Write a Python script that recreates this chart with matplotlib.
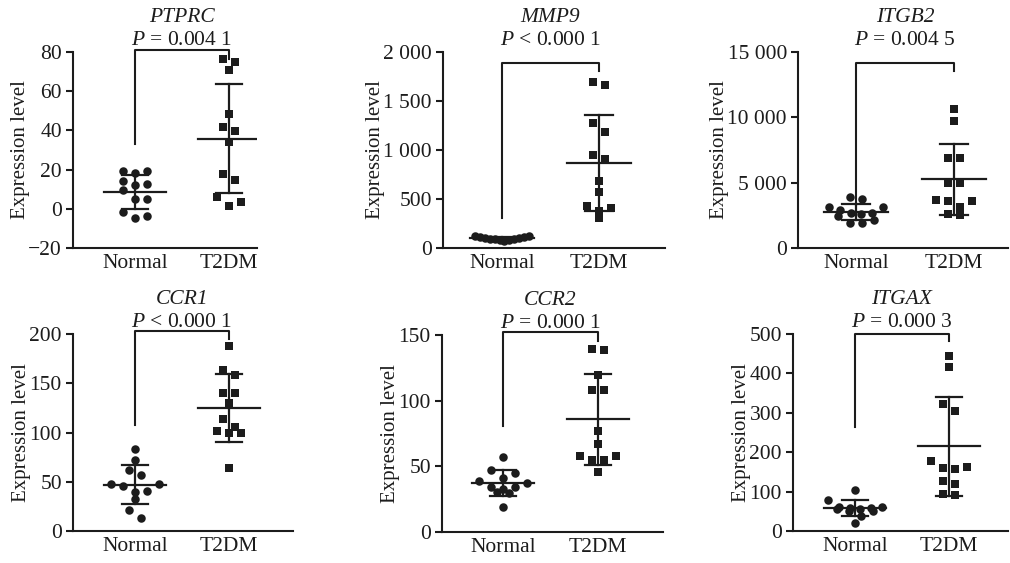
import numpy as np
import matplotlib
matplotlib.use('Agg')
import matplotlib.pyplot as plt
from matplotlib.ticker import FuncFormatter

plt.rcParams['font.family'] = ['Liberation Serif', 'DejaVu Serif']
plt.rcParams['mathtext.fontset'] = 'custom'
plt.rcParams['mathtext.rm'] = 'Liberation Serif'
plt.rcParams['mathtext.it'] = 'Liberation Serif:italic'

groups = ['Normal', 'T2DM']
genes = ['PTPRC', 'MMP9', 'ITGB2', 'CCR1', 'CCR2', 'ITGAX']
p_text = ['= 0.004 1', '< 0.000 1', '= 0.004 5', '< 0.000 1', '= 0.000 1', '= 0.000 3']

# values
ptprc_normal = [19.1, 18.3, 19.1, 14.0, 12.0, 12.8, 9.4, 5.2, 5.2, -1.8, -4.7, -3.5]
ptprc_t2dm = [74.7, 71.0, 76.4, 48.4, 41.7, 39.9, 34.1, 17.8, 14.9, 5.9, 1.6, 3.5]
mmp9_normal = [125, 118, 112, 108, 104, 100, 96, 92, 88, 84, 78, 72]
mmp9_t2dm = [1661, 1695, 1271, 1183, 905, 946, 688, 576, 413, 424, 380, 305]
itgb2_normal = [3900, 3750, 3150, 3100, 2900, 2700, 2650, 2600, 2450, 2150, 1950, 1900]
itgb2_t2dm = [10626, 9736, 6863, 6863, 5008, 5008, 3610, 3610, 3686, 3127, 2542, 2593]
ccr1_normal = [82.9, 72.0, 61.8, 56.7, 47.5, 45.5, 47.5, 39.4, 41.1, 32.3, 21.7, 13.6]
ccr1_t2dm = [188.0, 163.7, 158.6, 139.9, 139.9, 129.7, 113.4, 105.6, 101.2, 99.2, 99.2, 63.5]
ccr2_normal = [57.1, 44.9, 47.2, 37.3, 38.8, 41.1, 34.2, 34.2, 30.4, 29.7, 32.7, 19.0]
ccr2_t2dm = [138.5, 139.0, 119.4, 108.0, 108.0, 76.8, 66.9, 57.7, 55.2, 55.2, 57.7, 45.8]
itgax_normal = [104, 79, 62, 60, 58, 58, 57, 55, 52, 50, 38, 20]
itgax_t2dm = [444.9, 416.0, 322.6, 304.8, 161.3, 156.2, 160.5, 178.3, 118.9, 125.7, 90.8, 95.1]

normal_data = [ptprc_normal, mmp9_normal, itgb2_normal, ccr1_normal, ccr2_normal, itgax_normal]
t2dm_data = [ptprc_t2dm, mmp9_t2dm, itgb2_t2dm, ccr1_t2dm, ccr2_t2dm, itgax_t2dm]

# bracket: left leg bottom, top, right leg bottom
brackets = [(33.2, 80.85, 76.4), (305, 1892, 1807), (3300, 14184, 13549),
            (107.7, 202.7, 194.9), (80.6, 152.5, 145.7), (265, 500, 481)]
ylims = [(-20, 80), (0, 2000), (0, 15000), (0, 200), (0, 150), (0, 500)]
ysteps = [20, 500, 5000, 50, 50, 100]

# layout in pixels: left, right, top, bottom of axes; pixel x of the two groups
W, H = 1010, 563
boxes = [(73, 257, 52, 248), (443, 665, 52, 248), (798, 1008, 52, 248),
         (73, 293, 334, 531), (442, 663, 335, 532), (793, 1008, 334, 531)]
group_px = [(135, 229), (502, 599), (856, 954), (135, 229), (503, 598), (855, 949)]

col = '#1c1c1c'


def fmt(v, pos):
    s = f'{int(round(v)):,}'.replace(',', ' ')
    return s.replace('-', '\u2212')


def swarm(ax, x0, vals, bin_h=9.0, gap=12.0, half_max=27.0):
    # prism-like scatter: points in the same band get spread sideways
    ypx = ax.transData.transform([(x0, v) for v in vals])[:, 1]
    ppu = ax.transData.transform([(1, 0)])[0, 0] - ax.transData.transform([(0, 0)])[0, 0]
    order = list(np.argsort(-ypx))
    offs = np.zeros(len(vals))
    while order:
        first = order[0]
        band = [k for k in order if ypx[first] - ypx[k] <= bin_h]
        order = [k for k in order if k not in band]
        n = len(band)
        if n > 1:
            sp = min(gap, 2 * half_max / (n - 1))
            # alternate so neighbours in value are not side by side
            band = band[0::2] + band[1::2][::-1]
            for pos, k in enumerate(band):
                offs[k] = (pos - (n - 1) / 2) * sp
    return x0 + offs / ppu


fig = plt.figure(figsize=(W / 100, H / 100), dpi=100)

for i in range(6):
    l, r, t, b = boxes[i]
    ax = fig.add_axes([l / W, 1 - b / H, (r - l) / W, (b - t) / H])
    xn, xt = group_px[i]
    s = xt - xn
    ax.set_xlim((l - xn) / s, (r - xn) / s)
    ax.set_ylim(*ylims[i])

    for j, vals in enumerate([normal_data[i], t2dm_data[i]]):
        vals = np.array(vals, dtype=float)
        m = vals.mean()
        sd = vals.std(ddof=1)
        ax.plot([j, j], [m - sd, m + sd], color=col, lw=1.6, zorder=2)
        ax.plot([j - 0.33, j + 0.33], [m, m], color=col, lw=1.6, zorder=2)
        for yy in (m - sd, m + sd):
            ax.plot([j - 0.14, j + 0.14], [yy, yy], color=col, lw=1.6, zorder=2)
        xs = swarm(ax, j, vals)
        if j == 0:
            ax.scatter(xs, vals, s=(8.5 * 0.72) ** 2, marker='o', color=col,
                       linewidths=0, zorder=3, clip_on=False)
        else:
            ax.scatter(xs, vals, s=(7.8 * 0.72) ** 2, marker='s', color=col,
                       linewidths=0, zorder=3, clip_on=False)

    yl, ytop, yr = brackets[i]
    ax.plot([0, 0, 1, 1], [yl, ytop, ytop, yr], color=col, lw=1.5, clip_on=False, zorder=2)

    ax.annotate(genes[i], xy=(0.5, 1), xycoords=('data', 'axes fraction'),
                xytext=(0, 24.5), textcoords='offset points', ha='center', va='center',
                fontsize=15.5, style='italic', color=col)
    ax.annotate('$P$ ' + p_text[i], xy=(0.5, 1), xycoords=('data', 'axes fraction'),
                xytext=(0, 8.5), textcoords='offset points', ha='center', va='center',
                fontsize=15.5, color=col)

    ax.set_yticks(np.arange(ylims[i][0], ylims[i][1] + 1, ysteps[i]))
    ax.yaxis.set_major_formatter(FuncFormatter(fmt))
    ax.set_xticks([0, 1])
    ax.set_xticklabels(groups)
    ax.tick_params(axis='x', length=0, pad=4, labelsize=15.5, colors=col)
    ax.tick_params(axis='y', length=5, width=1.5, pad=3, labelsize=15.5, colors=col)
    ax.set_ylabel('Expression level', fontsize=15, color=col, labelpad=-1)
    for sp in ['top', 'right']:
        ax.spines[sp].set_visible(False)
    for sp in ['left', 'bottom']:
        ax.spines[sp].set_linewidth(1.5)
        ax.spines[sp].set_color(col)

fig.savefig('out.png', dpi=100)
